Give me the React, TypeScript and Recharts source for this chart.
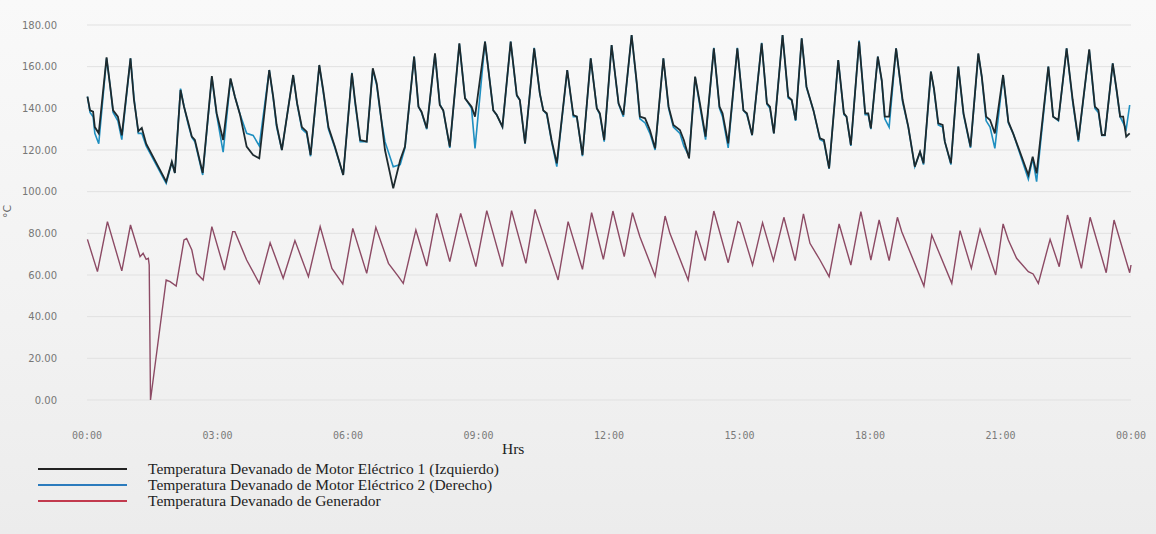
import React from 'react';
import { LineChart, Line, XAxis, YAxis, CartesianGrid } from 'recharts';

// time of day in hours (0 = 00:00, 24 = next 00:00)
const hourTicks = [0, 3, 6, 9, 12, 15, 18, 21, 24];
const tempTicks = [0, 20, 40, 60, 80, 100, 120, 140, 160, 180];

const motorHours = [
  0.01, 0.07, 0.14, 0.18, 0.27, 0.45, 0.53, 0.6, 0.71, 0.8,
  1.0, 1.08, 1.18, 1.26, 1.36, 1.82, 1.95, 2.02, 2.15, 2.23,
  2.33, 2.41, 2.48, 2.66, 2.87, 2.98, 3.13, 3.3, 3.4, 3.52,
  3.67, 3.82, 3.96, 4.19, 4.28, 4.36, 4.48, 4.74, 4.83, 4.94,
  5.05, 5.14, 5.34, 5.43, 5.55, 5.7, 5.89, 6.09, 6.16, 6.28,
  6.43, 6.57, 6.66, 6.74, 6.85, 7.04, 7.2, 7.31, 7.52, 7.62,
  7.69, 7.81, 8.0, 8.11, 8.19, 8.34, 8.56, 8.69, 8.84, 8.92,
  9.15, 9.34, 9.42, 9.55, 9.74, 9.88, 9.95, 10.07, 10.28, 10.41,
  10.49, 10.57, 10.68, 10.8, 11.04, 11.18, 11.26, 11.39, 11.58, 11.72,
  11.79, 11.89, 12.06, 12.22, 12.33, 12.52, 12.64, 12.71, 12.83, 12.94,
  13.06, 13.25, 13.37, 13.48, 13.63, 13.72, 13.84, 13.98, 14.09, 14.22,
  14.41, 14.54, 14.61, 14.74, 14.95, 15.09, 15.17, 15.29, 15.51, 15.63,
  15.7, 15.79, 15.99, 16.12, 16.2, 16.29, 16.43, 16.54, 16.7, 16.85,
  16.94, 17.06, 17.27, 17.4, 17.46, 17.56, 17.75, 17.89, 17.96, 18.02,
  18.18, 18.27, 18.34, 18.44, 18.6, 18.75, 18.88, 19.03, 19.15, 19.23,
  19.4, 19.47, 19.57, 19.67, 19.72, 19.86, 20.03, 20.15, 20.31, 20.49,
  20.57, 20.67, 20.76, 20.87, 21.06, 21.18, 21.29, 21.64, 21.74, 21.83,
  22.1, 22.21, 22.33, 22.52, 22.66, 22.79, 23.04, 23.17, 23.25, 23.33,
  23.4, 23.58, 23.67, 23.75, 23.82, 23.89, 23.97,
];

// Motor 1 (left)
const motor1 = [
  145.6, 139, 138.4, 131, 128, 164.5, 151, 139, 136, 127,
  164, 144, 129, 130.6, 123, 104.8, 114.4, 109, 148.8, 140.8,
  133, 126.4, 124.8, 109, 155.5, 137.7, 124.8, 154.4, 145.6, 136.8,
  121.6, 117.6, 116, 158.4, 145.6, 132, 120, 156, 142.5, 131,
  128.8, 117.6, 160.8, 148.8, 131, 121.6, 108, 156.8, 144, 124.8,
  124, 159.2, 152, 139, 120, 101.6, 115.2, 121.6, 164.8, 140.8,
  138.4, 130.4, 166.4, 141.6, 139, 121.6, 171.2, 144.8, 140.8, 136,
  172, 139, 136.8, 131.2, 172, 146.4, 144, 123.2, 168.8, 147.2,
  139, 137.6, 124.8, 113.6, 158.4, 136.8, 136, 117.6, 164, 140,
  137.6, 124.8, 170.4, 142.4, 136.8, 175.2, 152, 136, 135.2, 129.6,
  120.8, 164, 140.8, 132, 129.6, 124.8, 116, 155.2, 142.4, 126.4,
  168.8, 140.8, 137.6, 123.2, 168.8, 139, 137.6, 127.2, 171.2, 142.4,
  140.8, 128, 175.2, 145.6, 144, 134.4, 173.6, 150.4, 139, 125.6,
  124.8, 111.2, 163.2, 137.6, 136, 122.4, 172, 137.6, 137.6, 130.4,
  164.8, 153.6, 136, 136, 168.8, 144, 131.2, 112, 119.2, 113.6,
  157.6, 149.6, 132.8, 132, 124, 113.6, 160, 137.6, 121.6, 166.4,
  155.2, 136, 134.4, 128, 156, 133.6, 128, 108, 116.8, 108.8,
  160, 136, 134.4, 168.8, 144, 124.8, 168.3, 140.8, 139.2, 127.2,
  127.2, 161.6, 148.8, 136, 136, 126.4, 128,
];

// Motor 2 (right)
const motor2 = [
  145.6, 138, 136, 128, 123, 164, 151, 138, 134, 125,
  164, 145, 128, 128, 122, 104, 114, 109, 149.5, 141,
  132, 126, 124, 108, 155, 137, 119, 154, 145.6, 137,
  128, 127, 122, 158.4, 145, 131, 120, 156, 142, 130,
  128, 117, 160.5, 148, 130, 121, 108, 157, 143, 124,
  124, 158.5, 151, 138, 124, 112, 113, 121, 164.8, 140.8,
  138, 130, 166, 142, 139, 121, 171, 145, 140, 120.8,
  172, 139, 136.8, 131, 172, 146, 144, 123, 169, 147,
  139, 137, 124, 112, 158.4, 136, 136, 117, 164, 140,
  137, 124, 170.4, 142, 136, 175.2, 151, 135, 133, 128,
  120, 164, 140, 131, 128, 122, 117, 155, 141, 125,
  169, 140, 136, 121, 169, 139, 137, 127, 171.5, 142,
  140, 128, 175.2, 145, 144, 134, 173.6, 150, 139, 125,
  124, 111, 163, 137, 136, 122, 172.5, 137, 137, 130,
  164.8, 153, 135, 131, 168.8, 143, 131, 112, 119, 113,
  157.6, 149, 132, 131, 124, 113, 160, 137, 121, 166,
  155, 134, 131, 120.8, 156, 133, 128, 106, 116, 104.8,
  160, 136, 134, 168.8, 143, 124, 168, 140, 138, 127,
  127, 161.6, 148, 136, 133, 130, 141.6,
];

const genHours = [
  0.01, 0.24, 0.47, 0.8, 1.0, 1.22, 1.29, 1.36, 1.41, 1.43,
  1.46, 1.82, 1.91, 2.05, 2.23, 2.29, 2.41, 2.52, 2.67, 2.87,
  3.16, 3.35, 3.4, 3.67, 3.96, 4.21, 4.51, 4.78, 5.09, 5.36,
  5.63, 5.88, 6.11, 6.43, 6.64, 6.93, 7.16, 7.27, 7.56, 7.81,
  8.04, 8.34, 8.59, 8.94, 9.19, 9.55, 9.76, 10.09, 10.3, 10.83,
  11.06, 11.39, 11.6, 11.87, 12.09, 12.35, 12.54, 12.71, 13.06, 13.29,
  13.4, 13.82, 14.0, 14.21, 14.41, 14.74, 14.96, 15.01, 15.3, 15.53,
  15.78, 16.02, 16.28, 16.47, 16.62, 16.85, 17.06, 17.29, 17.56, 17.79,
  18.02, 18.21, 18.44, 18.63, 18.73, 19.24, 19.42, 19.88, 20.07, 20.33,
  20.53, 20.89, 21.06, 21.18, 21.37, 21.64, 21.75, 21.87, 22.14, 22.35,
  22.54, 22.86, 23.06, 23.43, 23.61, 23.97, 24.0,
];

const generator = [
  77.1, 61.6, 85.6, 62, 84, 68.8, 70.4, 67.5, 68, 64.8,
  0, 57.6, 56.8, 54.7, 76.8, 77.5, 72, 60.8, 57.6, 83.2,
  62.4, 80.8, 80.8, 67.2, 56, 75.5, 58.4, 76.5, 59.2, 83.2,
  63.2, 55.7, 82.4, 60.8, 82.9, 65.6, 59.2, 56, 81.6, 64.3,
  89.6, 66.4, 89.6, 64, 90.9, 64, 90.9, 65.6, 91.5, 57.6,
  85.6, 62.7, 89.9, 67.5, 90.7, 68.8, 89.9, 78.4, 59.5, 88.3,
  80, 57.6, 81.3, 66.9, 90.7, 65.9, 85.6, 85, 64.8, 85.1,
  66.9, 87.7, 66.9, 89.3, 75.2, 67.2, 59.2, 84.5, 64.8, 90.4,
  67.2, 86.4, 66.9, 87.7, 80.8, 54.7, 79.2, 56, 81.3, 63.2,
  81.9, 60, 84.5, 76.8, 68, 61.6, 60.5, 56, 77.1, 64,
  88.8, 63.2, 87.7, 61.1, 86.4, 61.1, 64.8,
];

const legendItems = [
  { label: 'Temperatura Devanado de Motor Eléctrico 1 (Izquierdo)', color: '#222222' },
  { label: 'Temperatura Devanado de Motor Eléctrico 2 (Derecho)', color: '#2b7bbd' },
  { label: 'Temperatura Devanado de Generador', color: '#c23a4e' },
];

const motorData = motorHours.map((t, i) => ({ t, m1: motor1[i], m2: motor2[i] }));
const genData = genHours.map((t, i) => ({ t, g: generator[i] }));

const fmtHour = (h: number) => String(h % 24).padStart(2, '0') + ':00';

export default function App() {
  return (
    <div
      style={{
        position: 'absolute',
        left: 0,
        top: 0,
        width: 1156,
        height: 534,
        overflow: 'hidden',
        background: 'linear-gradient(#f9f9f9, #f2f2f2 60%, #ececec)',
      }}
    >
      <LineChart width={1156} height={534} margin={{ top: 25, right: 25, left: 7, bottom: 104 }}>
        <CartesianGrid vertical={false} stroke="#e1e1e1" />
        <XAxis
          type="number"
          dataKey="t"
          domain={[0, 24]}
          ticks={hourTicks}
          interval={0}
          tickFormatter={fmtHour}
          height={30}
          axisLine={false}
          tickLine={false}
          tickMargin={26}
          tick={{ fontSize: 10, fill: '#7a7a7a', fontFamily: 'DejaVu Sans Mono' }}
        />
        <YAxis
          type="number"
          domain={[0, 180]}
          ticks={tempTicks}
          interval={0}
          width={80}
          tickFormatter={(v: number) => v.toFixed(2)}
          axisLine={false}
          tickLine={false}
          tickMargin={24}
          tick={{ fontSize: 10, fill: '#777777', fontFamily: 'DejaVu Sans' }}
        />
        <Line data={genData} dataKey="g" type="linear" stroke="#8c4a64" strokeWidth={1.4} dot={false} isAnimationActive={false} />
        <Line data={motorData} dataKey="m2" type="linear" stroke="#1f8fc0" strokeWidth={1.6} dot={false} isAnimationActive={false} />
        <Line data={motorData} dataKey="m1" type="linear" stroke="#1d2a2e" strokeWidth={1.8} dot={false} isAnimationActive={false} />
      </LineChart>

      <div
        style={{
          position: 'absolute',
          left: 1,
          top: 205,
          fontSize: 11,
          color: '#666',
          fontFamily: 'DejaVu Sans',
          transform: 'rotate(-90deg)',
        }}
      >
        °C
      </div>

      <div
        style={{
          position: 'absolute',
          left: 502,
          top: 440,
          fontSize: 15.5,
          color: '#222',
          fontFamily: '"Liberation Serif", serif',
        }}
      >
        Hrs
      </div>

      <div style={{ position: 'absolute', left: 38, top: 461 }}>
        {legendItems.map((item) => (
          <div key={item.label} style={{ display: 'flex', alignItems: 'center', height: 16 }}>
            <div style={{ width: 89, height: 2, background: item.color, marginRight: 21 }} />
            <span
              style={{
                fontSize: 15.5,
                lineHeight: '16px',
                color: '#222',
                fontFamily: '"Liberation Serif", serif',
                whiteSpace: 'nowrap',
              }}
            >
              {item.label}
            </span>
          </div>
        ))}
      </div>
    </div>
  );
}
